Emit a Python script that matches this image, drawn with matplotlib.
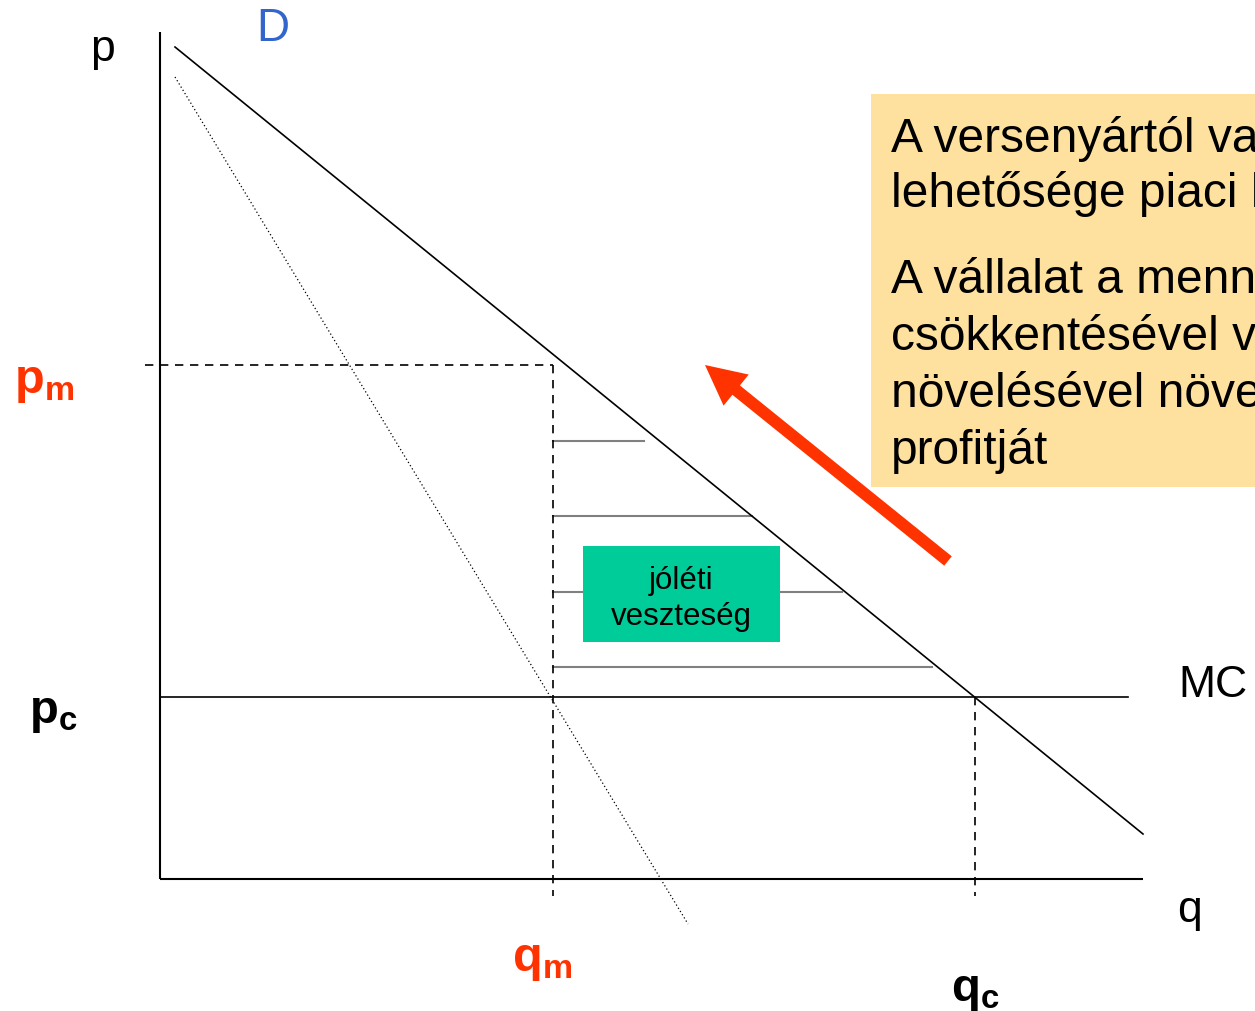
import matplotlib.pyplot as plt
from matplotlib.patches import Rectangle, FancyArrow

plt.rcParams['font.family'] = ['Liberation Sans', 'DejaVu Sans']
plt.rcParams['mathtext.fontset'] = 'custom'
plt.rcParams['mathtext.rm'] = 'Liberation Sans'
plt.rcParams['mathtext.bf'] = 'Liberation Sans:bold'

# economic model (units on the q / p axes)
axis_q_max = 983
axis_p_max = 847

demand_q = [15, 983]
demand_p = [832, 45]

mr_q = [15, 528]
mr_p = [802, -45]

mc_p = 182
mc_q_end = 968

p_m = 514
q_m = 393
q_c = 815

# deadweight-loss hatch lines
hatch_p = [438, 363, 287, 212]
hatch_q_end = [484, 592, 682, 772]

box_lines_1 = ["A versenyártól való eltérés", "lehetősége piaci hatalom"]
box_lines_2 = ["A vállalat a mennyiség", "csökkentésével vagy az ár",
               "növelésével növelheti", "profitját"]

red = '#FF3300'

fig = plt.figure(figsize=(12.55, 10.12), dpi=100)
ax = fig.add_axes([0, 0, 1, 1])
ax.set_xlim(-160, 1095)
ax.set_ylim(-132, 880)
ax.axis('off')

# axes
ax.plot([0, 0], [0, axis_p_max], color='black', lw=1.5, solid_capstyle='butt')
ax.plot([0, axis_q_max], [0, 0], color='black', lw=1.5, solid_capstyle='butt')

# MC
ax.plot([0, mc_q_end], [mc_p, mc_p], color='black', lw=1.2)

# hatch lines (behind the green box)
for hp, hq in zip(hatch_p, hatch_q_end):
    ax.plot([q_m, hq], [hp, hp], color='#808080', lw=1.5, zorder=2)

# dashed guides
dash = (0, (5, 4))
ax.plot([-15, q_m], [p_m, p_m], color='black', lw=1.2, ls=dash)
ax.plot([q_m, q_m], [p_m, -17], color='black', lw=1.2, ls=dash)
ax.plot([q_c, q_c], [mc_p, -17], color='black', lw=1.2, ls=dash)

# demand and marginal revenue
ax.plot(demand_q, demand_p, color='black', lw=1.2, zorder=4)
ax.plot(mr_q, mr_p, color='black', lw=0.9, ls=(0, (1, 2)), zorder=4)

# welfare loss box
ax.add_patch(Rectangle((423, 237), 197, 96, facecolor='#00CC99',
                       edgecolor='none', zorder=5))
ax.text(521, 291, "jóléti", ha='center', va='baseline', fontsize=22.5, zorder=6)
ax.text(521, 255, "veszteség", ha='center', va='baseline', fontsize=22.5, zorder=6)

# arrow
arrow_tail = (788, 318)
arrow_tip = (545, 514)
ax.add_patch(FancyArrow(arrow_tail[0], arrow_tail[1],
                        arrow_tip[0] - arrow_tail[0], arrow_tip[1] - arrow_tail[1],
                        width=12, head_width=40, head_length=40,
                        length_includes_head=True, color=red, lw=0, zorder=6))

# text box (cut by the right edge, as in the original slide)
ax.add_patch(Rectangle((711, 392), 500, 393, facecolor='#FEE19E',
                       edgecolor='none', zorder=5))
for i, line in enumerate(box_lines_1):
    ax.text(731, 728 - 55 * i, line, fontsize=34.5, va='baseline',
            zorder=6, clip_on=True)
for i, line in enumerate(box_lines_2):
    ax.text(731, 587 - 57 * i, line, fontsize=34.5, va='baseline',
            zorder=6, clip_on=True)

# labels
ax.text(-70, 819, "p", fontsize=32, va='baseline')
ax.text(113, 851, "D", fontsize=33, color='#3366CC', ha='center', va='center')
ax.text(1018, 183, "MC", fontsize=32, va='baseline')
ax.text(1017, -42, "q", fontsize=32, va='baseline')

ax.text(-146, 487, r"$\mathbf{p_m}$", fontsize=35, color=red, va='baseline')
ax.text(-131, 157, r"$\mathbf{p_c}$", fontsize=34, color='black', va='baseline')
ax.text(352, -91, r"$\mathbf{q_m}$", fontsize=35, color=red, va='baseline')
ax.text(791, -121, r"$\mathbf{q_c}$", fontsize=34, color='black', va='baseline')

fig.savefig('out.png', dpi=100)
